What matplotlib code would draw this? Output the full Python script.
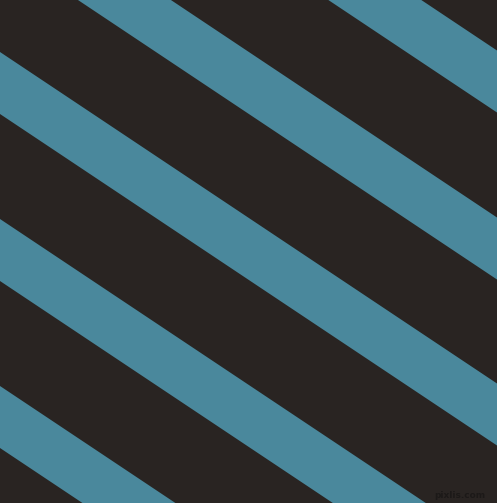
import matplotlib
matplotlib.use("Agg")
import matplotlib.pyplot as plt
import numpy as np

# canvas size in pixels
width_px = 497
height_px = 503

# stripe pattern
background_color = "#292422"
stripe_color = "#4a889c"
slope = 0.667                                  # rise per pixel, stripes run down-right
stripe_upper_at_left = [-281, -114, 52, 219, 386]   # y of upper edge at x = 0
stripe_thickness = 62                          # vertical thickness of each blue band

fig = plt.figure(figsize=(width_px / 100, height_px / 100), dpi=100)
fig.patch.set_facecolor(background_color)
ax = fig.add_axes([0, 0, 1, 1])
ax.set_facecolor(background_color)

x = np.array([0, width_px])
for y0 in stripe_upper_at_left:
    upper = y0 + slope * x
    lower = upper + stripe_thickness
    ax.fill_between(x, upper, lower, color=stripe_color, linewidth=0)

ax.set_xlim(0, width_px)
ax.set_ylim(height_px, 0)
ax.axis("off")

# watermark
ax.text(485, 496, "pixlis.com", ha="right", va="center", fontsize=6.5,
        color="#1c1918", fontweight="bold")

fig.savefig("out.png", dpi=100, facecolor=background_color)
